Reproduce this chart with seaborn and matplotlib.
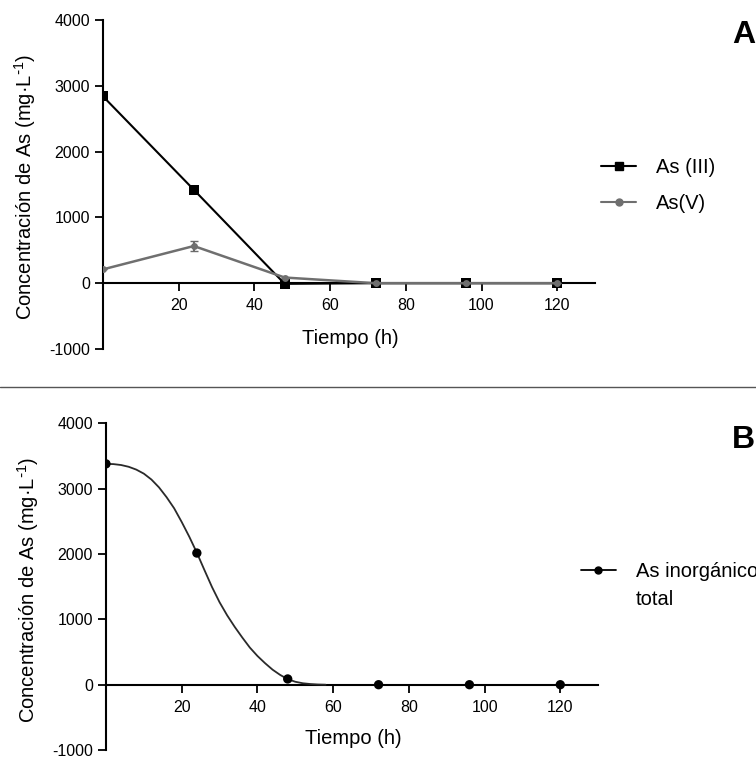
import numpy as np
import pandas as pd
import matplotlib
matplotlib.use("Agg")
import matplotlib.pyplot as plt
from matplotlib.lines import Line2D
import seaborn as sns

# datos
tiempo = [0, 24, 48, 72, 96, 120]
as_iii = [2840, 1420, -10, 0, 0, 0]
as_v = [210, 565, 86, 0, 0, 0]
as_v_err = [0, 75, 0, 0, 0, 0]
as_total = [3380, 2015, 88, 0, 0, 0]

ajuste_t = [0, 2, 4, 6, 8, 10, 12, 14, 16, 18, 20, 22, 24, 26, 28, 30,
            32, 34, 36, 38, 40, 42, 44, 46, 48, 50, 52, 54, 56, 58]
ajuste_y = [3380, 3376, 3362, 3335, 3292, 3230, 3140, 3020, 2870, 2700,
            2490, 2265, 2020, 1755, 1495, 1262, 1062, 885, 722, 568,
            440, 330, 230, 150, 85, 45, 22, 10, 3, 0]

yticks = [-1000, 0, 1000, 2000, 3000, 4000]
xticks = [20, 40, 60, 80, 100, 120]
ylabel = "Concentración de As (mg·L$^{\\mathregular{\\text{-}1}}$)"

sns.set_style("ticks")
plt.rcParams["font.family"] = ["Liberation Sans", "DejaVu Sans"]
plt.rcParams["axes.unicode_minus"] = False
for k in ["text.color", "axes.labelcolor", "xtick.color", "ytick.color"]:
    plt.rcParams[k] = "black"

fig = plt.figure(figsize=(7.56, 7.58), dpi=100)
axA = fig.add_axes([0.1362, 0.5396, 0.651, 0.434])
axB = fig.add_axes([0.1402, 0.0105, 0.651, 0.431])


def estilo(ax, lx, ly, yx, yy):
    ax.set_xlim(0, 130)
    ax.set_ylim(-1000, 4000)
    ax.spines["top"].set_visible(False)
    ax.spines["right"].set_visible(False)
    ax.spines["bottom"].set_position(("data", 0))
    for s in ["left", "bottom"]:
        ax.spines[s].set_linewidth(1.5)
        ax.spines[s].set_color("black")
    ax.set_xticks(xticks)
    ax.set_yticks(yticks)
    ax.tick_params(axis="both", labelsize=11.5, width=1.3, length=6, color="black")
    ax.tick_params(axis="x", pad=5)
    ax.set_xlabel("Tiempo (h)", fontsize=14.5, va="center")
    ax.xaxis.set_label_coords(lx, ly)
    ax.set_ylabel(ylabel, fontsize=14.5, va="center")
    ax.yaxis.set_label_coords(yx, yy)
    ax.patch.set_alpha(0)


# panel A
dfA = pd.DataFrame({"t": tiempo, "iii": as_iii, "v": as_v})
sns.lineplot(data=dfA, x="t", y="iii", ax=axA, color="black", marker="s",
             markersize=6.5, markeredgewidth=0, linewidth=1.5, zorder=3)
axA.errorbar(tiempo, as_v, yerr=as_v_err, fmt="none", ecolor="#6a6a6a",
             elinewidth=1.5, capsize=3, zorder=4)
sns.lineplot(data=dfA, x="t", y="v", ax=axA, color="#6f6f6f", marker="o",
             markersize=5, markeredgewidth=0, linewidth=1.8, zorder=4)
estilo(axA, 0.502, 0.033, -0.159, 0.492)

hA = [Line2D([], [], color="black", marker="s", markersize=6, lw=1.5),
      Line2D([], [], color="#6f6f6f", marker="o", markersize=5, lw=1.5)]
fig.legend(hA, ["As (III)", "As(V)"], loc="center left",
           bbox_to_anchor=(0.795, 0.755), frameon=False, fontsize=14.5,
           handlelength=1.75, handletextpad=1.0, labelspacing=0.85,
           borderpad=0, borderaxespad=0)
fig.text(0.968, 0.954, "A", fontsize=23, fontweight="bold", ha="left", va="center")

# panel B
dfB = pd.DataFrame({"t": tiempo, "y": as_total})
dfFit = pd.DataFrame({"t": ajuste_t, "y": ajuste_y})
sns.lineplot(data=dfFit, x="t", y="y", ax=axB, color="#2a2a2a", linewidth=1.3, zorder=3)
sns.scatterplot(data=dfB, x="t", y="y", ax=axB, color="black", s=45,
                edgecolor="none", zorder=4)
estilo(axB, 0.502, 0.036, -0.158, 0.489)

hB = [Line2D([], [], color="black", marker="o", markersize=5, lw=1.3),
      Line2D([], [], linestyle="none")]
fig.legend(hB, ["As inorgánico", "total"], loc="upper left",
           bbox_to_anchor=(0.769, 0.259), frameon=False, fontsize=14.5,
           handlelength=1.7, handletextpad=1.0, labelspacing=0.45,
           borderpad=0, borderaxespad=0)
fig.text(0.968, 0.419, "B", fontsize=23, fontweight="bold", ha="left", va="center")

# linea separadora
fig.add_artist(Line2D([0, 1], [1 - 387 / 758, 1 - 387 / 758], color="#555555",
                      lw=1.0, transform=fig.transFigure))

fig.savefig("out.png", dpi=100)
